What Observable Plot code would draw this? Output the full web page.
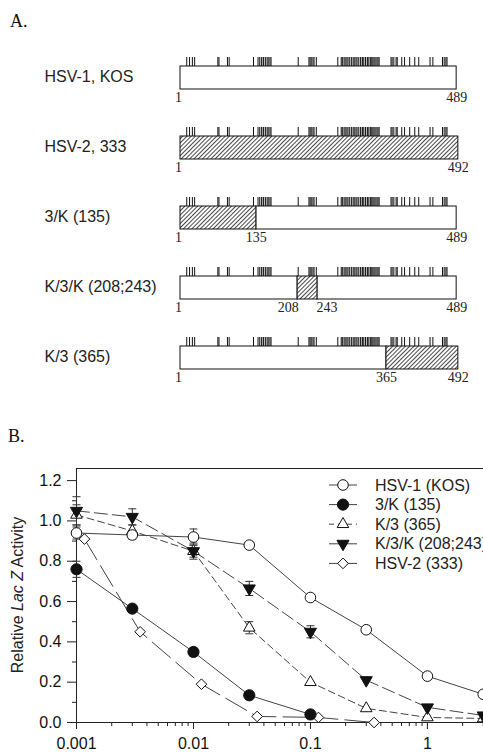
<!DOCTYPE html>
<html><head><meta charset="utf-8">
<script src="https://cdn.jsdelivr.net/npm/d3@7"></script>
<script src="https://cdn.jsdelivr.net/npm/@observablehq/plot@0.6"></script>
<style>
html,body{margin:0;padding:0;background:#fff;overflow:hidden;width:483px;height:752px;}
#wrap{position:relative;width:483px;height:752px;overflow:hidden;background:#fff;}
.panel{position:absolute;left:0;}
.panel svg{max-width:none !important;}
.tag{position:absolute;font-family:"Liberation Serif","Times New Roman",serif;font-size:18px;line-height:18px;color:#111;}
</style></head><body>
<div id="wrap">
  <div class="tag" style="left:10px;top:12px;">A.</div>
  <div class="tag" style="left:8px;top:427px;">B.</div>
  <div class="panel" id="pa" style="top:0px;"></div>
  <div class="panel" id="pb" style="top:400px;"></div>
</div>
<script>
// ---------- Panel A data ----------
const rows = ["HSV-1, KOS", "HSV-2, 333", "3/K (135)", "K/3/K (208;243)", "K/3 (365)"];
const segRow   = [0, 1, 2, 2, 3, 3, 3, 4, 4];
const segStart = [1, 1, 1, 135, 1, 208, 243, 1, 365];
const segEnd   = [489, 492, 135, 489, 208, 243, 489, 365, 492];
const segHSV2  = [false, true, true, false, false, true, false, false, true];
const lblRow = [0, 0, 1, 1, 2, 2, 2, 3, 3, 3, 3, 4, 4, 4];
const lblPos = [1, 489, 1, 492, 1, 135, 489, 1, 208, 243, 489, 1, 365, 492];
// amino-acid differences (residue positions) marked above each bar
const diffs = [12,17,22,26, 67,69, 84,87, 130, 138,141,144,147,148,151,154,156,159,161, 209,
  228,230,232,235,237,241, 279, 285,287,290,292,295,297,300,303,306,308,311,313,316,319,322,323,
  325,328,331,332,334,337,339,341,343,345,348,350,352, 373,375,378,382,384, 392,397,406,415,422,
  442,447, 464,467,470,472];

// ---------- Panel B data ----------
const conc = [0.001, 0.003, 0.01, 0.03, 0.1, 0.3, 1, 3];
const concHSV2 = [0.00117, 0.0035, 0.0117, 0.035, 0.117, 0.35];
const seriesNames = ["HSV-1 (KOS)", "3/K (135)", "K/3 (365)", "K/3/K (208;243)", "HSV-2 (333)"];
const hsv1Val = [0.94, 0.93, 0.92, 0.88, 0.62, 0.46, 0.23, 0.14];
const hsv1Err = [0.03, 0.02, 0.04, 0, 0, 0, 0, 0];
const k135Val = [0.76, 0.565, 0.35, 0.135, 0.04];
const k135Err = [0.04, 0, 0.02, 0, 0];
const k365Val = [1.03, 0.95, 0.85, 0.47, 0.20, 0.07, 0.025, 0.02];
const k365Err = [0.05, 0.03, 0.03, 0.03, 0, 0, 0, 0];
const k3kVal  = [1.05, 1.02, 0.85, 0.665, 0.45, 0.21, 0.075, 0.035];
const k3kErr  = [0.07, 0.04, 0.04, 0.035, 0.03, 0, 0, 0];
const hsv2Val = [0.91, 0.45, 0.19, 0.03, 0.025, 0.0];
const hsv2Err = [0, 0, 0, 0, 0, 0];
const yTicks = [0, 0.2, 0.4, 0.6, 0.8, 1.0, 1.2];
const yMinor = [0.1, 0.3, 0.5, 0.7, 0.9, 1.1];
const xTicks = [0.001, 0.01, 0.1, 1];

const SANS = "'Liberation Sans', Arial, Helvetica, sans-serif";
const SERIF = "'Liberation Serif', 'Times New Roman', serif";
const INK = "#111";

// ---------- Panel A ----------
const segments = segRow.map((r, i) => ({row: rows[r], start: segStart[i], end: segEnd[i], hatched: segHSV2[i]}));
const labels = lblRow.map((r, i) => ({row: rows[r], pos: lblPos[i]}));
const tickData = rows.flatMap(r => diffs.map(p => ({row: r, pos: p})));
const numText = (data, anchor, dx) => Plot.text(data, {x: "pos", y: "row", text: d => String(d.pos),
  textAnchor: anchor, lineAnchor: "top", dy: 14, dx, fontFamily: SERIF, fontSize: 14, fill: "#222"});

const plotA = Plot.plot({
  width: 483, height: 400,
  marginTop: 64, marginBottom: 29, marginLeft: 180, marginRight: 26,
  x: {domain: [1, 490.5], axis: null},
  y: {domain: rows, axis: null, paddingInner: 0.676, paddingOuter: 0},
  style: {fontFamily: SANS, color: INK, background: "transparent", overflow: "visible"},
  marks: [
    Plot.barX(segments.filter(d => !d.hatched), {x1: "start", x2: "end", y: "row", fill: "white", stroke: INK, strokeWidth: 1}),
    Plot.barX(segments.filter(d => d.hatched), {x1: "start", x2: "end", y: "row", fill: "url(#hatchA)", stroke: INK, strokeWidth: 1}),
    Plot.tickX(tickData, {x: "pos", y: "row", dy: -23, insetTop: 14, stroke: INK, strokeWidth: 1}),
    Plot.text(rows, {y: d => d, text: d => d, frameAnchor: "left", textAnchor: "start", dx: -136, dy: -1.5, fontSize: 16, fill: "#222"}),
    numText(labels.filter(d => d.pos === 1), "middle", -2),
    numText(labels.filter(d => d.pos !== 1 && d.pos !== 208 && d.pos !== 243), "middle", 0),
    numText(labels.filter(d => d.pos === 208), "end", 1),
    numText(labels.filter(d => d.pos === 243), "start", -1)
  ]
});
{
  const defs = d3.select(plotA).insert("defs", ":first-child");
  const pat = defs.append("pattern").attr("id", "hatchA").attr("patternUnits", "userSpaceOnUse")
    .attr("width", 3).attr("height", 3).attr("patternTransform", "rotate(45)");
  pat.append("rect").attr("width", 3).attr("height", 3).attr("fill", "white");
  pat.append("line").attr("x1", 0.5).attr("y1", 0).attr("x2", 0.5).attr("y2", 3).attr("stroke", "#333").attr("stroke-width", 0.9);
}
document.getElementById("pa").appendChild(plotA);

// ---------- Panel B ----------
const series = [
  {name: seriesNames[0], xs: conc, v: hsv1Val, e: hsv1Err, dash: null, symbol: "circle", r: 5.3, fill: "white", rotate: 0},
  {name: seriesNames[1], xs: conc, v: k135Val, e: k135Err, dash: null, symbol: "circle", r: 5.6, fill: INK, rotate: 0},
  {name: seriesNames[2], xs: conc, v: k365Val, e: k365Err, dash: "7,4", symbol: "triangle", r: 4.3, fill: "white", rotate: 0},
  {name: seriesNames[3], xs: conc, v: k3kVal, e: k3kErr, dash: "13,5", symbol: "triangle", r: 4.5, fill: INK, rotate: 180},
  {name: seriesNames[4], xs: concHSV2, v: hsv2Val, e: hsv2Err, dash: "24,7", symbol: "diamond2", r: 4.8, fill: "white", rotate: 0}
];
const pts = s => s.v.map((v, i) => ({x: s.xs[i], v, e: s.e[i]}));
const capSymbol = {draw(ctx, size) { const w = Math.sqrt(size / Math.PI); ctx.moveTo(-w, 0); ctx.lineTo(w, 0); }};
const minorX = [];
for (const dec of [0.001, 0.01, 0.1, 1]) for (let k = 2; k <= 9; k++) minorX.push(+(dec * k).toPrecision(3));

const marksB = [
  Plot.frame({stroke: "#222", strokeWidth: 1}),
  Plot.axisY(yTicks, {tickSize: 9, tickPadding: 6, tickFormat: d3.format(".1f"), fontSize: 16, label: null, stroke: "#222"}),
  Plot.axisY(yMinor, {tickSize: 4, tickFormat: () => "", label: null, stroke: "#222"}),
  Plot.axisX(xTicks, {tickSize: 7, tickPadding: 8, tickFormat: d => String(d), fontSize: 16, label: null, stroke: "#222"}),
  Plot.axisX(minorX.filter(d => d < 3.2), {tickSize: 4, tickFormat: () => "", label: null, stroke: "#222"})
];
for (const s of series) {
  marksB.push(Plot.line(pts(s), {x: "x", y: "v", stroke: "#444", strokeWidth: 1, strokeDasharray: s.dash || undefined}));
}
for (const s of series) {
  const ed = pts(s).filter(d => d.e > 0);
  marksB.push(Plot.ruleX(ed, {x: "x", y1: d => d.v - d.e, y2: d => d.v + d.e, stroke: "#333", strokeWidth: 1}));
  marksB.push(Plot.dot(ed, {x: "x", y: d => d.v + d.e, symbol: capSymbol, r: 4, stroke: "#333", strokeWidth: 1}));
  marksB.push(Plot.dot(ed, {x: "x", y: d => d.v - d.e, symbol: capSymbol, r: 4, stroke: "#333", strokeWidth: 1}));
}
for (const s of [series[4], series[2], series[1], series[3], series[0]]) {
  marksB.push(Plot.dot(pts(s), {x: "x", y: "v", symbol: s.symbol, r: s.r, fill: s.fill, stroke: INK, strokeWidth: 1, rotate: s.rotate}));
}

const plotB = Plot.plot({
  width: 540, height: 360,
  marginTop: 68, marginBottom: 38, marginLeft: 76, marginRight: 54,
  x: {type: "log", domain: [0.001, 3.2]},
  y: {domain: [0, 1.26]},
  style: {fontFamily: SANS, color: INK, background: "transparent", fontSize: "16px", maxWidth: "none"},
  marks: marksB
});
{
  const svg = d3.select(plotB);
  // y-axis title with italic "Lac Z"
  const t = svg.append("text").attr("transform", "translate(17,195) rotate(-90)")
    .attr("text-anchor", "middle").attr("dy", "0.35em")
    .attr("font-family", SANS).attr("font-size", 16).attr("fill", "#222");
  t.append("tspan").text("Relative ");
  t.append("tspan").attr("font-style", "italic").text("Lac Z");
  t.append("tspan").text(" Activity");
  // legend
  const lg = svg.append("g").attr("font-family", SANS).attr("font-size", 16).attr("fill", "#222").attr("text-anchor", "start");
  series.forEach((s, i) => {
    const y = 85 + i * 19.6;
    lg.append("line").attr("x1", 329).attr("x2", 357).attr("y1", y).attr("y2", y)
      .attr("stroke", "#444").attr("stroke-width", 1).attr("stroke-dasharray", s.dash ? (i === 2 ? "5,4" : "12,4") : null);
    const sym = s.symbol === "circle" ? d3.symbolCircle : s.symbol === "triangle" ? d3.symbolTriangle : d3.symbolDiamond2;
    lg.append("path").attr("d", d3.symbol(sym, Math.PI * s.r * s.r)())
      .attr("transform", `translate(343,${y}) rotate(${s.rotate})`)
      .attr("fill", s.fill).attr("stroke", INK).attr("stroke-width", 1);
    lg.append("text").attr("x", 375).attr("y", y).attr("dy", "0.35em").attr("text-anchor", "start").text(s.name);
  });
}
document.getElementById("pb").appendChild(plotB);
</script>
</body></html>
